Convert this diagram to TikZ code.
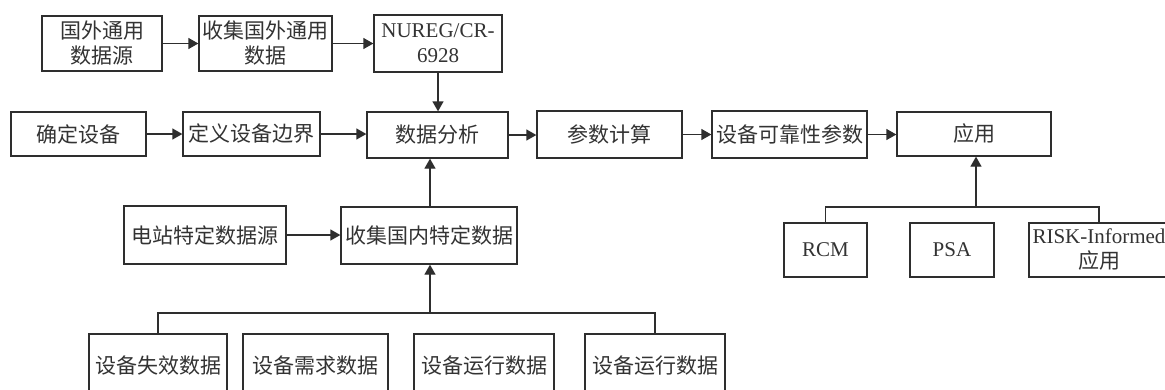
\documentclass[tikz,border=0pt]{standalone}
\usepackage{fontspec}
\setmainfont{Liberation Serif}
\newfontfamily\cjk{Noto Sans CJK SC}
\usetikzlibrary{arrows.meta}
\definecolor{ln}{HTML}{2E2E2E}
\definecolor{tx}{HTML}{333333}
\tikzset{
  box/.style={draw=ln, line width=1.3pt, rectangle, inner sep=0pt, align=center,
    text=tx, font=\fontsize{21}{25}\selectfont},
  arr/.style={draw=ln, line width=1.3pt, -{Triangle[length=10pt,width=11pt]}},
  ln/.style={draw=ln, line width=1.3pt}
}
\begin{document}
\begin{tikzpicture}[x=1pt,y=-1pt]
\useasboundingbox (0,0) rectangle (1165,389);
\clip (0,0) rectangle (1165,389);
\fill[white] (0,0) rectangle (1165,389);
% top row
\node[box, minimum width=120, minimum height=55] (g1) at (102,43.5) {\cjk 国外通用\\\cjk 数据源};
\node[box, minimum width=133, minimum height=55] (g2) at (265.5,43.5) {\cjk 收集国外通用\\\cjk 数据};
\node[box, minimum width=128, minimum height=57] (nureg) at (438,43.5) {NUREG/CR-\\6928};
% main row
\node[box, minimum width=135, minimum height=44] (qd) at (78.5,134) {\cjk 确定设备};
\node[box, minimum width=137, minimum height=44] (dy) at (251.5,134) {\cjk 定义设备边界};
\node[box, minimum width=141, minimum height=46] (fx) at (437.5,135) {\cjk 数据分析};
\node[box, minimum width=145, minimum height=47] (cs) at (609.5,134.5) {\cjk 参数计算};
\node[box, minimum width=155, minimum height=47] (kk) at (789.5,134.5) {\cjk 设备可靠性参数};
\node[box, minimum width=154, minimum height=44] (yy) at (974,134) {\cjk 应用};
% third row
\node[box, minimum width=162, minimum height=58] (dz) at (205,235) {\cjk 电站特定数据源};
\node[box, minimum width=176, minimum height=57] (gn) at (429,235.5) {\cjk 收集国内特定数据};
\node[box, minimum width=83, minimum height=54] (rcm) at (825.5,250) {RCM};
\node[box, minimum width=84, minimum height=54] (psa) at (952,250) {PSA};
\node[box, minimum width=140, minimum height=54] (risk) at (1099,250) {RISK-Informed\\\cjk 应用};
% bottom row
\node[box, minimum width=138, minimum height=64] (b1) at (158,366) {\cjk 设备失效数据};
\node[box, minimum width=145, minimum height=64] (b2) at (315.5,366) {\cjk 设备需求数据};
\node[box, minimum width=140, minimum height=64] (b3) at (484,366) {\cjk 设备运行数据};
\node[box, minimum width=140, minimum height=64] (b4) at (655,366) {\cjk 设备运行数据};
% connectors
\draw[arr] (g1.east) -- (g1.east -| g2.west);
\draw[arr] (g2.east) -- (g2.east -| nureg.west);
\draw[arr] (nureg.south) -- (nureg.south |- fx.north);
\draw[arr] (qd.east) -- (qd.east -| dy.west);
\draw[arr] (dy.east) -- (dy.east -| fx.west);
\draw[arr] (fx.east) -- (fx.east -| cs.west);
\draw[arr] (cs.east) -- (cs.east -| kk.west);
\draw[arr] (kk.east) -- (kk.east -| yy.west);
\draw[arr] (dz.east) -- (dz.east -| gn.west);
\draw[arr] ([xshift=1pt]gn.north) -- ([xshift=1pt]gn.north |- fx.south);
\coordinate (busB) at (430,313);
\coordinate (busA) at (976,207);
\draw[ln] (b1.north) |- (busB) -| (b4.north);
\draw[arr] (busB) -- (busB |- gn.south);
\draw[ln] (rcm.north) |- (busA) -| (risk.north);
\draw[arr] (busA) -- (busA |- yy.south);
\end{tikzpicture}
\end{document}
